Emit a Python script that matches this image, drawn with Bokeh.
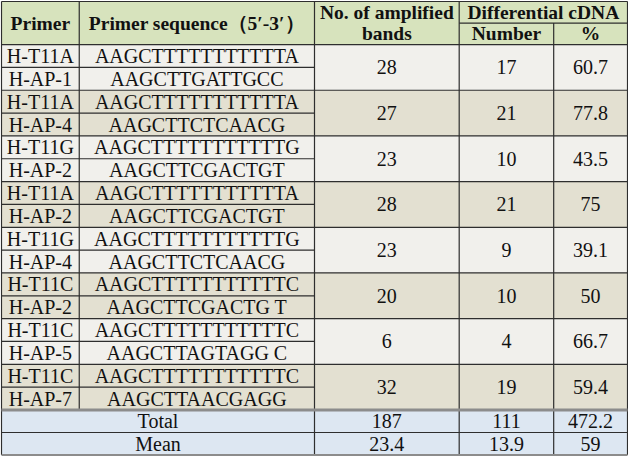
from bokeh.plotting import figure
from bokeh.models import ColumnDataSource, Range1d
from bokeh.core.properties import value
from bokeh.embed import file_html
from bokeh.resources import INLINE

# ---- data ----
primers = ["H-T11A", "H-AP-1", "H-T11A", "H-AP-4", "H-T11G", "H-AP-2", "H-T11A", "H-AP-2",
           "H-T11G", "H-AP-4", "H-T11C", "H-AP-2", "H-T11C", "H-AP-5", "H-T11C", "H-AP-7"]
sequences = ["AAGCTTTTTTTTTTTA", "AAGCTTGATTGCC", "AAGCTTTTTTTTTTTA", "AAGCTTCTCAACG",
             "AAGCTTTTTTTTTTTG", "AAGCTTCGACTGT", "AAGCTTTTTTTTTTTA", "AAGCTTCGACTGT",
             "AAGCTTTTTTTTTTTG", "AAGCTTCTCAACG", "AAGCTTTTTTTTTTTC", "AAGCTTCGACTG T",
             "AAGCTTTTTTTTTTTC", "AAGCTTAGTAGG C", "AAGCTTTTTTTTTTTC", "AAGCTTAACGAGG"]
bands = [28, 27, 23, 28, 23, 20, 6, 32]
diff_number = [17, 21, 10, 21, 9, 10, 4, 19]
diff_percent = [60.7, 77.8, 43.5, 75, 39.1, 50, 66.7, 59.4]
summary_labels = ["Total", "Mean"]
summary_bands = [187, 23.4]
summary_number = [111, 13.9]
summary_percent = [472.2, 59]
header_cols = ["Primer", "Primer sequence\uff085\u2032-3\u2032\uff09"]
header_bands = ["No. of amplified", "bands"]
header_diff = ["Differential cDNA", "Number", "%"]

# ---- layout (reference pixel units) ----
XE = [4, 83, 322, 469, 565, 640]
Y_TOP, Y_SUB, Y_HEAD = 5, 27, 49
Y_TOTAL = 422
RH = (Y_TOTAL - Y_HEAD) / len(primers)
SH = 23

GREEN = "#d7e3bd"
LIGHT = "#f1f0ec"
BEIGE = "#e3e0d1"
BLUE = "#dde7f2"
LINE = "#2e2e2e"
TXT = "#111111"
FONT = value("Liberation Serif")

p = figure(width=628, height=456, output_backend="svg", toolbar_location=None,
           x_range=Range1d(3, 641), y_range=Range1d(469.5, 4),
           min_border=0, min_border_left=0, min_border_right=0,
           min_border_top=0, min_border_bottom=0)
p.axis.visible = False
p.grid.visible = False
p.outline_line_color = None
p.background_fill_color = "white"

# ---- backgrounds ----
qs = dict(left=[], right=[], top=[], bottom=[], color=[])
def addq(l, r, t, b, c):
    qs["left"].append(l); qs["right"].append(r); qs["top"].append(t); qs["bottom"].append(b); qs["color"].append(c)

addq(XE[0], XE[-1], Y_TOP, Y_HEAD, GREEN)
npairs = len(bands)
for i in range(npairs):
    addq(XE[0], XE[-1], Y_HEAD + 2 * i * RH, Y_HEAD + (2 * i + 2) * RH, LIGHT if i % 2 == 0 else BEIGE)
for j in range(len(summary_labels)):
    addq(XE[0], XE[-1], Y_TOTAL + j * SH, Y_TOTAL + (j + 1) * SH, BLUE)
p.quad(left="left", right="right", top="top", bottom="bottom", color="color",
       source=ColumnDataSource(qs), line_color=None)

# ---- lines ----
seg = dict(x0=[], y0=[], x1=[], y1=[])
def adds(x0, y0, x1, y1):
    seg["x0"].append(x0); seg["y0"].append(y0); seg["x1"].append(x1); seg["y1"].append(y1)

Y_BOT = Y_TOTAL + 2 * SH
adds(XE[0], Y_TOP, XE[-1], Y_TOP)
adds(XE[3], Y_SUB, XE[-1], Y_SUB)
adds(XE[0], Y_HEAD, XE[-1], Y_HEAD)
for k in range(1, len(primers)):
    y = Y_HEAD + k * RH
    if k % 2 == 1:
        adds(XE[0], y, XE[2], y)
    else:
        adds(XE[0], y, XE[-1], y)
adds(XE[0], Y_TOTAL + SH, XE[-1], Y_TOTAL + SH)
for x in [XE[0], XE[2], XE[3], XE[5]]:
    adds(x, Y_TOP, x, Y_BOT)
adds(XE[1], Y_TOP, XE[1], Y_TOTAL)
adds(XE[4], Y_SUB, XE[4], Y_BOT)
p.segment(x0="x0", y0="y0", x1="x1", y1="y1", source=ColumnDataSource(seg),
          line_color=LINE, line_width=1.2)
p.segment(x0=[XE[0]], y0=[Y_TOTAL], x1=[XE[-1]], y1=[Y_TOTAL], line_color="#8c8c8c", line_width=3)
p.segment(x0=[XE[0]], y0=[Y_BOT], x1=[XE[-1]], y1=[Y_BOT], line_color="#8c8c8c", line_width=2)

# ---- texts ----
def fmt(v):
    return f"{v:g}"

cx = [(XE[i] + XE[i + 1]) / 2 for i in range(5)]

hx = [cx[0], cx[1], cx[2], cx[2], (XE[3] + XE[5]) / 2, cx[3], cx[4]]
hy = [(Y_TOP + Y_HEAD) / 2, (Y_TOP + Y_HEAD) / 2, (Y_TOP + Y_SUB) / 2, (Y_SUB + Y_HEAD) / 2,
      (Y_TOP + Y_SUB) / 2, (Y_SUB + Y_HEAD) / 2, (Y_SUB + Y_HEAD) / 2]
ht = header_cols + header_bands + header_diff
p.text(x=hx, y=hy, text=ht, text_font=FONT, text_font_style="bold", text_font_size="19.5px",
       text_align="center", text_baseline="middle", text_color=TXT)

bx, by, bt = [], [], []
for k in range(len(primers)):
    y = Y_HEAD + (k + 0.5) * RH
    bx += [cx[0], cx[1]]; by += [y, y]; bt += [primers[k], sequences[k]]
for i in range(npairs):
    y = Y_HEAD + (2 * i + 1) * RH
    bx += [cx[2], cx[3], cx[4]]; by += [y, y, y]
    bt += [fmt(bands[i]), fmt(diff_number[i]), fmt(diff_percent[i])]
for j in range(len(summary_labels)):
    y = Y_TOTAL + (j + 0.5) * SH
    bx += [(XE[0] + XE[2]) / 2, cx[2], cx[3], cx[4]]; by += [y] * 4
    bt += [summary_labels[j], fmt(summary_bands[j]), fmt(summary_number[j]), fmt(summary_percent[j])]
p.text(x=bx, y=by, text=bt, text_font=FONT, text_font_size="20px",
       text_align="center", text_baseline="middle", text_color=TXT)

open("out.html", "w").write(file_html(p, INLINE))
